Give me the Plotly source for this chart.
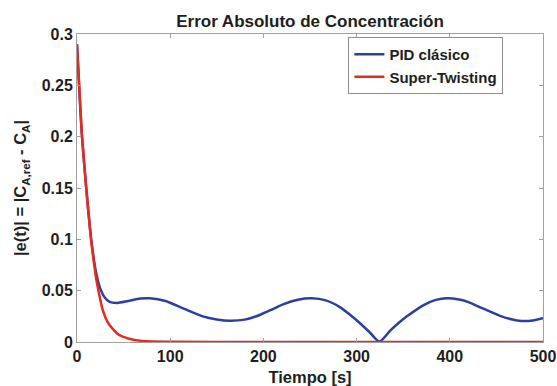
import plotly.graph_objects as go

t_pid = [0, 5, 10, 15, 20, 25, 30, 35, 43, 55, 68, 78, 95, 114, 135, 150, 164, 180, 196, 210, 221, 237, 252, 267, 282, 293, 304, 314, 324.4, 336, 345, 354, 372, 385, 397, 410, 420, 432, 454, 466, 477, 489, 500]
e_pid = [0.290, 0.205, 0.150, 0.102, 0.070, 0.052, 0.043, 0.039, 0.038, 0.040, 0.0423, 0.0426, 0.040, 0.0328, 0.0250, 0.0220, 0.0207, 0.0218, 0.0263, 0.032, 0.0367, 0.0412, 0.0426, 0.0405, 0.0340, 0.0265, 0.0180, 0.0095, 0.0005, 0.0110, 0.0185, 0.0250, 0.0360, 0.0410, 0.0426, 0.0413, 0.0388, 0.0340, 0.0255, 0.0222, 0.0205, 0.0210, 0.0232]

t_st = [0, 5, 10, 15, 20, 23, 28, 33, 39, 45, 57, 70, 100, 200, 300, 400, 500]
e_st = [0.290, 0.205, 0.148, 0.100, 0.065, 0.050, 0.030, 0.019, 0.012, 0.007, 0.003, 0.001, 0.0002, 0.0, 0.0, 0.0, 0.0]

x_ticks = [0, 100, 200, 300, 400, 500]
y_ticks = [0, 0.05, 0.1, 0.15, 0.2, 0.25, 0.3]
y_tick_text = ["0", "0.05", "0.1", "0.15", "0.2", "0.25", "0.3"]

FONT = "Liberation Sans"
TXT = "#1E1E1E"

fig = go.Figure()
fig.add_trace(go.Scatter(x=t_pid, y=e_pid, mode="lines", name="<b>PID clásico</b>",
                         line=dict(color="#2B3FA3", width=2.5, shape="spline", smoothing=0.7)))
fig.add_trace(go.Scatter(x=t_st, y=e_st, mode="lines", name="<b>Super-Twisting</b>",
                         line=dict(color="#E82A1E", width=2.5, shape="spline", smoothing=0.4)))

axis_common = dict(showgrid=False, zeroline=False, showline=True, linecolor="#A0A0A0",
                   linewidth=1, mirror="ticks", ticks="inside", ticklen=4, tickcolor="#A0A0A0",
                   tickfont=dict(family=FONT, size=16, color=TXT), automargin=False)

fig.update_layout(
    width=557, height=386,
    margin=dict(l=77, r=14, t=34, b=44),
    paper_bgcolor="white", plot_bgcolor="white",
    font=dict(family=FONT, color=TXT),
    title=dict(text="<b>Error Absoluto de Concentración</b>", x=0.5, xref="paper", xanchor="center",
               y=1 - 21 / 386, yref="container", yanchor="middle",
               font=dict(family=FONT, size=17, color=TXT)),
    legend=dict(x=0.915, y=0.99, xanchor="right", yanchor="top",
                bgcolor="white", bordercolor="#8C8C8C", borderwidth=1,
                font=dict(family=FONT, size=15, color=TXT),
                tracegroupgap=0, itemwidth=30),
    showlegend=True,
)
fig.update_xaxes(range=[0, 500], tickvals=x_ticks, ticktext=[f"<b>{v}</b>" for v in x_ticks],
                 title=dict(text="<b>Tiempo [s]</b>", font=dict(family=FONT, size=16.5, color=TXT), standoff=8),
                 **axis_common)
fig.update_yaxes(range=[0, 0.3], tickvals=y_ticks, ticktext=[f"<b>{v}</b>" for v in y_tick_text],
                 title=dict(text="<b>|e(t)| = |C<sub>A,ref</sub> - C<sub>A</sub>|</b>",
                            font=dict(family=FONT, size=16.5, color=TXT), standoff=10),
                 **axis_common)

fig.write_html("out.html")
